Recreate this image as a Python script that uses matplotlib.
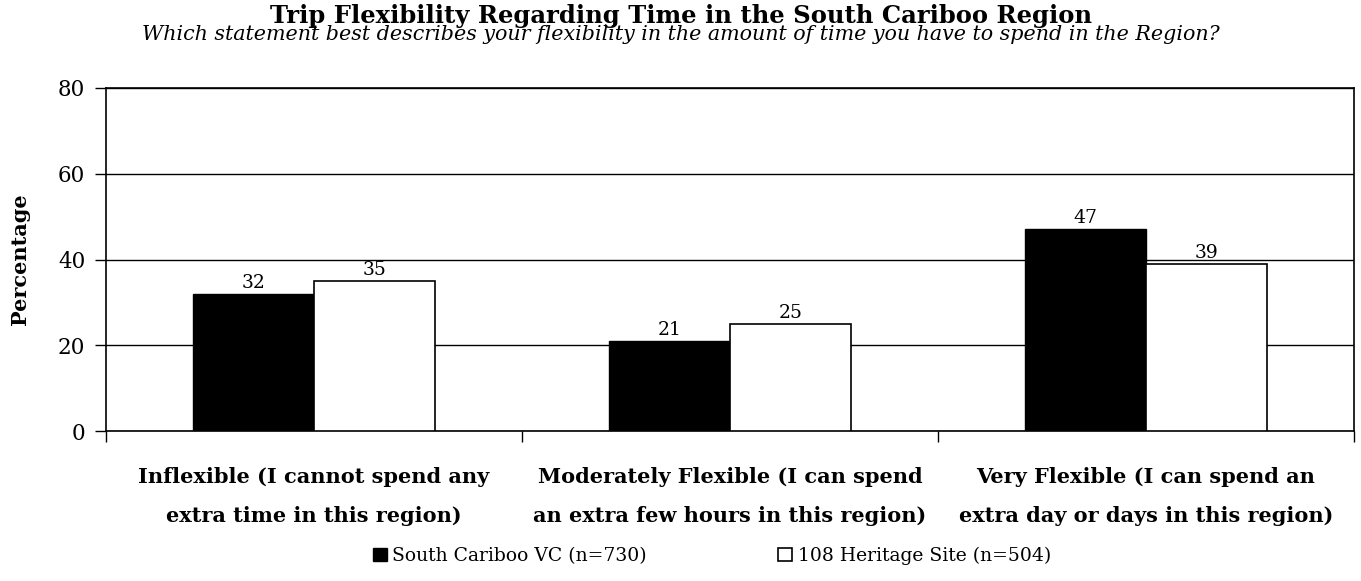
import matplotlib
matplotlib.use('Agg')
import matplotlib.pyplot as plt
import numpy as np

categories = [
    'Inflexible (I cannot spend any\nextra time in this region)',
    'Moderately Flexible (I can spend\nan extra few hours in this region)',
    'Very Flexible (I can spend an\nextra day or days in this region)',
]
series_names = ['South Cariboo VC (n=730)', '108 Heritage Site (n=504)']
south_cariboo = [32, 21, 47]
heritage_site = [35, 25, 39]
y_ticks = [0, 20, 40, 60, 80]

plt.rcParams['font.family'] = ['DejaVu Serif']

fig = plt.figure(figsize=(13.61, 5.81), dpi=100)
ax = fig.add_axes([106 / 1361, 1 - 431 / 581, 1248 / 1361, 343 / 581])

x = np.arange(len(categories))
w = 0.29
b1 = ax.bar(x - w / 2, south_cariboo, w, color='black', edgecolor='black',
            linewidth=1, label=series_names[0], zorder=3)
b2 = ax.bar(x + w / 2, heritage_site, w, color='white', edgecolor='black',
            linewidth=1.2, label=series_names[1], zorder=3)

for bars in (b1, b2):
    for r in bars:
        ax.text(r.get_x() + r.get_width() / 2, r.get_height() + 0.5,
                '%d' % r.get_height(), ha='center', va='bottom', fontsize=13.5)

ax.set_xlim(-0.5, len(categories) - 0.5)
ax.set_ylim(0, 80)
ax.set_yticks(y_ticks)
ax.tick_params(axis='y', labelsize=15.5, length=8, width=1, direction='out', pad=7)
ax.yaxis.grid(True, color='black', linewidth=1, zorder=0)

ax.set_xticks(x)
ax.set_xticklabels(categories, fontsize=15, fontweight='bold', linespacing=2.15)
ax.tick_params(axis='x', length=0, pad=26)
ax.set_xticks(np.arange(len(categories) + 1) - 0.5, minor=True)
ax.tick_params(axis='x', which='minor', length=8, width=1, direction='out')

for s in ax.spines.values():
    s.set_linewidth(1.2)
    s.set_color('black')

ax.set_ylabel('Percentage', fontsize=15, fontweight='bold', labelpad=20)

fig.text(0.5, 1 - 16 / 581, 'Trip Flexibility Regarding Time in the South Cariboo Region',
         ha='center', va='center', fontsize=17.5, fontweight='bold')
fig.text(0.5, 1 - 35 / 581, 'Which statement best describes your flexibility in the amount '
         'of time you have to spend in the Region?',
         ha='center', va='center', fontsize=14.9, style='italic')

fig.legend(handles=[b1, b2], loc='center', bbox_to_anchor=(712 / 1361, 1 - 556 / 581),
           ncol=2, frameon=False, fontsize=13.5, handlelength=0.75, handleheight=0.75,
           handletextpad=0.3, columnspacing=7)

fig.savefig('out.png', dpi=100)
